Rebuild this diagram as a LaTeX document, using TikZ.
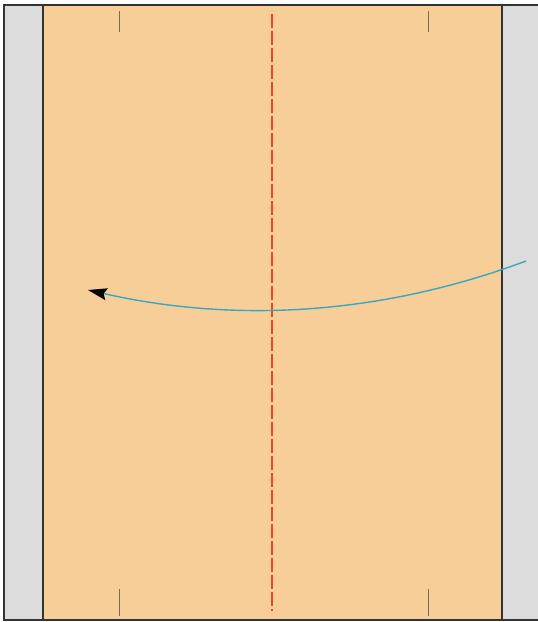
\documentclass[tikz,border=0pt]{standalone}
\usepackage{tikz}
\usetikzlibrary{arrows.meta}

\definecolor{sheet}{HTML}{F7CD98}
\definecolor{margin}{HTML}{DCDCDC}
\definecolor{frame}{HTML}{333333}
\definecolor{foldred}{HTML}{E8472A}
\definecolor{turnblue}{HTML}{3AA6C0}

\begin{document}
\begin{tikzpicture}[x=1pt, y=-1pt]
		\useasboundingbox (0, 0) rectangle (538, 622);
		% grey margins on both sides
		\fill [margin] (4, 5) rectangle (43, 620);
		\fill [margin] (502, 5) rectangle (538, 620);
		% the sheet
		\fill [sheet] (43, 5) rectangle (502, 620);
		\draw [frame, line width=2pt] (538, 5) -- (4, 5) -- (4, 620) -- (538, 620);
		\draw [frame, line width=2pt] (43, 5) -- (43, 620);
		\draw [frame, line width=2pt] (502, 5) -- (502, 620);
		% small marks at top and bottom
		\draw [frame!65!sheet, line width=1pt] (119, 11) -- (119, 32);
		\draw [frame!65!sheet, line width=1pt] (428, 11) -- (428, 32);
		\draw [frame!65!sheet, line width=1pt] (119, 589) -- (119, 616);
		\draw [frame!65!sheet, line width=1pt] (428, 589) -- (428, 616);
		% centre fold
		\coordinate (foldtop) at (272, 14);
		\coordinate (foldbot) at (272, 611);
		\draw [foldred, line width=2.8pt, dash pattern=on 14pt off 3pt] (foldtop) -- (foldbot);
		% turning arrow
		\coordinate (turnstart) at (526, 261);
		\coordinate (turnend) at (88, 290);
		\draw [turnblue, line width=1.4pt, -{Stealth[black, length=19pt, width=12pt, inset=3pt]}]
			(turnstart) .. controls (384, 314) and (238, 324) .. (turnend);
	\end{tikzpicture}
\end{document}
